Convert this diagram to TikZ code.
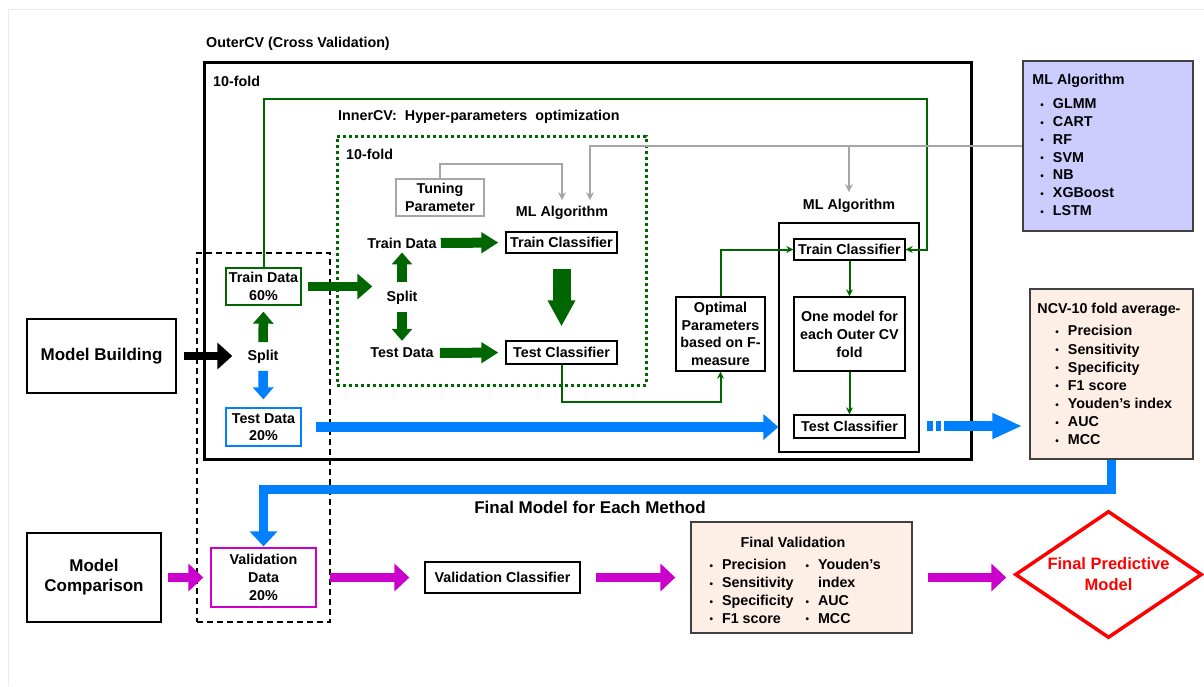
\documentclass[tikz,border=0pt]{standalone}
\usepackage{fontspec}
\setmainfont{Liberation Sans}
\usepackage{tikz}
\usetikzlibrary{arrows.meta, positioning, calc, shapes.geometric}
\definecolor{cvgreen}{RGB}{0, 102, 0}
\definecolor{cvblue}{RGB}{0, 128, 255}
\definecolor{cvmag}{RGB}{204, 0, 204}
\definecolor{cvgrey}{RGB}{166, 166, 166}
\definecolor{cvlilac}{RGB}{204, 204, 255}
\definecolor{cvpeach}{RGB}{253, 238, 230}
\definecolor{cvred}{RGB}{255, 0, 0}
\newcommand{\blt}[1][8pt]{\hspace*{#1}\makebox[12.5pt][l]{\raisebox{0.3pt}{\fontsize{10}{10}\selectfont\textbullet}}}

\begin{document}
\begin{tikzpicture}[x=1pt, y=-1pt,
    every node/.style={font=\bfseries\fontsize{14.3}{17.5}\selectfont, inner sep=2pt},
    frame/.style={draw, inner sep=0pt},
    box/.style={draw, line width=1.3pt, align=center},
    lst/.style={align=left, inner sep=0pt},
    fat/.style={line width=9.5pt, -{Triangle[length=15pt, width=25pt]}},
    fatsm/.style={line width=9.5pt, -{Triangle[length=12pt, width=20pt]}},
    fatmid/.style={line width=10pt, -{Triangle[length=17pt, width=20pt]}},
    fatbig/.style={line width=18pt, -{Triangle[length=26pt, width=26pt]}},
    thinarr/.style={cvgreen, line width=2pt, -{Stealth[length=7pt, width=7pt]}},
    greyarr/.style={cvgrey, line width=1.8pt, -{Stealth[length=8pt, width=8pt]}}]
    \useasboundingbox (0,0) rectangle (1204,686);
    \draw[black!8, line width=0.8pt] (8,686) -- (8,9) -- (1204,9);

    % Frames
    \node[frame, line width=3pt, minimum width=767pt, minimum height=397pt] (outercv) at (587.5,260.5) {};
    \node[frame, line width=1.5pt, dash pattern=on 6pt off 4pt, minimum width=133pt, minimum height=369pt] (splitbox) at (263.5,437.5) {};
    \node[frame, cvgreen, line width=3pt, dash pattern=on 3pt off 3pt, minimum width=309pt, minimum height=249pt] (innercv) at (491.5,260.5) {};
    \node[frame, line width=1.3pt, minimum width=140pt, minimum height=229pt] (mlouter) at (849,337.5) {};
    \coordinate (loopne) at (927,99);
    \coordinate (ncvin) at (927,426);

    \node[anchor=west] (outerttl) at (204,44) {OuterCV (Cross Validation)};
    \node[anchor=west] (fold1) at (211,81) {10-fold};
    \node[anchor=west] (innerttl) at (336,117) {InnerCV:\hspace{4pt} Hyper-parameters\hspace{4pt} optimization};
    \node[anchor=west] (fold2) at (344,154) {10-fold};

    % Model building
    \node[box, line width=2.5pt, minimum width=149pt, minimum height=74pt, font=\bfseries\fontsize{17}{20}\selectfont] (modelb) at (101.5,356) {Model Building};
    \node (split1) at (263,357) {Split};
    \node[box, draw=cvgreen, minimum width=75pt, minimum height=37pt] (train60) at (263.5,286.5) {Train Data\\60\%};
    \node[box, draw=cvblue, minimum width=75pt, minimum height=38pt] (test20) at (263.5,427) {Test Data\\20\%};

    % Inner CV
    \node[box, draw=cvgrey, minimum width=88pt, minimum height=37pt] (tuning) at (440,197.5) {Tuning\\Parameter};
    \node (mlalg1) at (562,213) {ML Algorithm};
    \node (traind) at (402,243) {Train Data};
    \node (split2) at (402,298) {Split};
    \node (testd) at (402,353) {Test Data};
    \node[box, minimum width=111pt, minimum height=21pt] (trainc1) at (561.5,242.5) {Train Classifier};
    \node[box, minimum width=111pt, minimum height=23pt] (testc1) at (561.5,352.5) {Test Classifier};

    % Outer CV model
    \node[box, minimum width=89pt, minimum height=74pt] (optimal) at (720.5,334) {Optimal\\Parameters\\based on F-\\measure};
    \node (mlalg2) at (849,206) {ML Algorithm};
    \node[box, minimum width=111pt, minimum height=21pt] (trainc2) at (849.5,249.5) {Train Classifier};
    \node[box, minimum width=111pt, minimum height=74pt, font=\bfseries\fontsize{14.3}{18}\selectfont] (onemodel) at (849.5,334) {One model for\\each Outer CV\\fold};
    \node[box, minimum width=111pt, minimum height=23pt] (testc2) at (849.5,426.5) {Test Classifier};

    % Side boxes
    \node[box, draw=black!75, line width=1.5pt, fill=cvlilac, minimum width=170pt, minimum height=170pt] (mlbox) at (1108,146) {};
    \node[lst, anchor=north west, font=\bfseries\fontsize{14.3}{17.8}\selectfont] (mllist) at ([shift={(10,14)}]mlbox.north west)
        {ML Algorithm\\[6pt]\blt GLMM\\\blt CART\\\blt RF\\\blt SVM\\\blt NB\\\blt XGBoost\\\blt LSTM};
    \node[box, draw=black!75, line width=1.5pt, fill=cvpeach, minimum width=163pt, minimum height=170pt] (ncv) at (1111.5,374) {};
    \node[lst, anchor=north west, font=\bfseries\fontsize{14.3}{18.1}\selectfont] (ncvlist) at ([shift={(8,15)}]ncv.north west)
        {NCV-10 fold average-\\[4pt]\blt[18pt]Precision\\\blt[18pt]Sensitivity\\\blt[18pt]Specificity\\\blt[18pt]F1 score\\\blt[18pt]Youden’s index\\\blt[18pt]AUC\\\blt[18pt]MCC};

    % Model comparison
    \node[anchor=center, font=\bfseries\fontsize{17}{20}\selectfont] (finalttl) at (590,507) {Final Model for Each Method};
    \node[box, line width=2.5pt, minimum width=134pt, minimum height=89pt, font=\bfseries\fontsize{17}{20}\selectfont] (modelc) at (94,577.5) {Model\\Comparison};
    \node[box, draw=cvmag, minimum width=105pt, minimum height=59pt, font=\bfseries\fontsize{14.3}{18}\selectfont] (valdata) at (263.5,577.5) {Validation\\Data\\20\%};
    \node[box, minimum width=155pt, minimum height=31pt] (valcls) at (502.5,577.5) {Validation Classifier};
    \node[box, draw=black!75, fill=cvpeach, minimum width=221pt, minimum height=111pt] (finalval) at (801.5,577.5) {};
    \node (fvttl) at ([shift={(-8.5,-35.5)}]finalval.center) {Final Validation};
    \node[lst, anchor=north west, font=\bfseries\fontsize{14.3}{17.7}\selectfont] (fvleft) at ([shift={(19,38)}]finalval.north west)
        {\blt[0pt]Precision\\\blt[0pt]Sensitivity\\\blt[0pt]Specificity\\\blt[0pt]F1 score};
    \node[lst, anchor=north west, font=\bfseries\fontsize{14.3}{17.7}\selectfont] (fvright) at ([shift={(115,38)}]finalval.north west)
        {\blt[0pt]Youden’s\\\hspace*{12.5pt}index\\\blt[0pt]AUC\\\blt[0pt]MCC};
    \node[diamond, draw=cvred, line width=3.5pt, aspect=1.47, inner sep=0pt, minimum width=187pt, minimum height=127pt,
        text=cvred, align=center, font=\bfseries\fontsize{16.5}{21}\selectfont] (finalpred) at (1108.5,574.5) {Final Predictive\\Model};

    % Block arrows
    \draw[fat, black, line width=8pt, -{Triangle[length=15pt, width=26pt]}, shorten <=7pt, shorten >=13pt] (modelb.east) -- (modelb.east -| split1.west);
    \draw[fatsm, cvgreen, shorten <=6pt, shorten >=6pt] (split1.north) -- (train60.south);
    \draw[fatsm, cvblue, shorten <=5pt, shorten >=8pt] (split1.south) -- (test20.north);
    \draw[fat, cvgreen, shorten <=6pt, shorten >=12pt] (train60.east) -- (train60.east -| split2.west);
    \draw[fatsm, cvgreen, shorten <=7pt, shorten >=2pt] (split2.north) -- (traind.south);
    \draw[fatsm, cvgreen, shorten <=5pt, shorten >=5pt] (split2.south) -- (testd.north);
    \draw[fatmid, cvgreen, shorten <=2pt, shorten >=7pt] (traind.east) -- (trainc1.west);
    \draw[fatmid, cvgreen, shorten <=4pt, shorten >=7pt] (testd.east) -- (testc1.west);
    \draw[fatbig, cvgreen, shorten <=15pt, shorten >=14pt] (trainc1.south) -- (testc1.north);
    \draw[fat, cvblue, line width=10pt, shorten <=14pt] (test20.east) -- (test20.east -| mlouter.west);
    \draw[cvblue, line width=10pt, -{Triangle[length=30pt, width=24pt]}, dash pattern=on 6pt off 3pt on 5pt off 3pt on 300pt, shorten >=7pt] (ncvin) -- (ncvin -| ncv.west);
    \draw[cvblue, line width=9pt, -{Triangle[length=15pt, width=27pt]}, shorten >=1pt] (ncv.south) -- ++(0,30) -| (valdata.north);
    % Magenta arrows
    \draw[fat, cvmag, line width=9pt, -{Triangle[length=15pt, width=27pt]}, shorten <=6pt, shorten >=7pt] (modelc.east) -- (valdata.west);
    \draw[fat, cvmag, line width=9pt, -{Triangle[length=15pt, width=27pt]}, shorten <=13pt, shorten >=15pt] (valdata.east) -- (valcls.west);
    \draw[fat, cvmag, line width=9pt, -{Triangle[length=15pt, width=27pt]}, shorten <=15pt, shorten >=15pt] (valcls.east) -- (finalval.west);
    \draw[fat, cvmag, line width=9pt, -{Triangle[length=15pt, width=27pt]}, shorten <=15pt, shorten >=7pt] (finalval.east) -- (finalval.east -| finalpred.west);

    % Thin connectors
    \draw[thinarr] (train60.north) |- (loopne) |- (trainc2.east);
    \draw[thinarr] (testc1.south) -- ++(0,37) -| (optimal.south);
    \draw[thinarr] (optimal.north) |- (trainc2.west);
    \draw[thinarr] (trainc2.south) -- (onemodel.north);
    \draw[thinarr] (onemodel.south) -- (testc2.north);
    \draw[greyarr, shorten >=4pt] (tuning.north) -- ++(0,-14) -| (mlalg1.north);
    \draw[greyarr, shorten >=4pt] (mlbox.west) -| ([xshift=28pt]mlalg1.north);
    \draw[greyarr, shorten >=5pt] (mlalg2.north |- mlbox.west) -- (mlalg2.north);
\end{tikzpicture}
\end{document}
